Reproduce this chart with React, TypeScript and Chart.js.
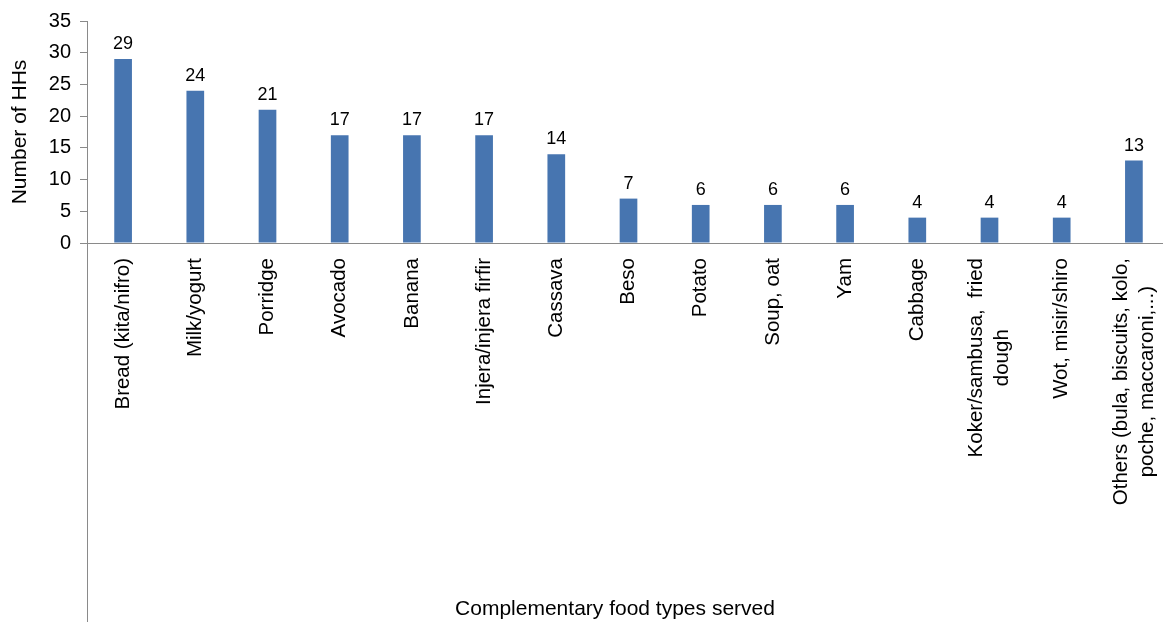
import React, { useEffect, useRef } from "react";
import { Chart, registerables } from "chart.js";

Chart.register(...registerables);

const categories: string[][] = [
  ["Bread (kita/nifro)"],
  ["Milk/yogurt"],
  ["Porridge"],
  ["Avocado"],
  ["Banana"],
  ["Injera/injera firfir"],
  ["Cassava"],
  ["Beso"],
  ["Potato"],
  ["Soup, oat"],
  ["Yam"],
  ["Cabbage"],
  ["Koker/sambusa,  fried", "dough"],
  ["Wot, misir/shiro"],
  ["Others (bula, biscuits, kolo,", "poche, maccaroni,...)"],
];
const householdCounts: number[] = [29, 24, 21, 17, 17, 17, 14, 7, 6, 6, 6, 4, 4, 4, 13];
const yMin = 0;
const yMax = 35;
const yStep = 5;
const yAxisTitle = "Number of HHs";
const xAxisTitle = "Complementary food types served";

const FONT = '"Liberation Sans", Arial, Helvetica, sans-serif';
const AXIS_COLOR = "#8a8a8a";
const BAR_COLOR = "#4775b0";
const TEXT_COLOR = "#000000";

const annotatePlugin = {
  id: "annotate",
  afterDraw(chart: any) {
    const ctx: CanvasRenderingContext2D = chart.ctx;
    const xs = chart.scales.x;
    const ys = chart.scales.y;
    const area = chart.chartArea;
    ctx.save();
    // extend the vertical axis line down through the label area
    const ax = Math.floor(ys.right) + 0.5;
    ctx.strokeStyle = AXIS_COLOR;
    ctx.lineWidth = 1;
    ctx.beginPath();
    ctx.moveTo(ax, area.bottom);
    ctx.lineTo(ax, chart.height);
    ctx.stroke();

    // value labels above bars
    ctx.fillStyle = TEXT_COLOR;
    ctx.font = `18px ${FONT}`;
    ctx.textAlign = "center";
    ctx.textBaseline = "alphabetic";
    const meta = chart.getDatasetMeta(0);
    const values = chart.data.datasets[0].data as number[];
    meta.data.forEach((bar: any, i: number) => {
      ctx.fillText(String(values[i]), bar.x, bar.y - 10);
    });

    // rotated category labels
    ctx.font = `20.5px ${FONT}`;
    const labels = chart.data.labels as string[][];
    const lineH = 26;
    labels.forEach((lines, i) => {
      const x = xs.getPixelForValue(i);
      const w = Math.max(...lines.map((l) => ctx.measureText(l).width));
      ctx.save();
      ctx.translate(x, area.bottom + 15 + w / 2);
      ctx.rotate(-Math.PI / 2);
      ctx.textAlign = "center";
      ctx.textBaseline = "middle";
      lines.forEach((l, j) => {
        ctx.fillText(l, 0, (j - (lines.length - 1) / 2) * lineH);
      });
      ctx.restore();
    });

    // x axis title
    ctx.font = `21px ${FONT}`;
    ctx.textAlign = "center";
    ctx.textBaseline = "middle";
    ctx.fillText(xAxisTitle, 615, 609);
    ctx.restore();
  },
};

export default function App() {
  const canvasRef = useRef<HTMLCanvasElement | null>(null);

  useEffect(() => {
    const canvas = canvasRef.current;
    if (!canvas) return;
    const chart = new Chart(canvas, {
      type: "bar",
      data: {
        labels: categories as any,
        datasets: [
          {
            data: householdCounts,
            backgroundColor: BAR_COLOR,
            borderWidth: 0,
            barPercentage: 0.245,
            categoryPercentage: 1,
          },
        ],
      },
      options: {
        responsive: false,
        animation: false,
        devicePixelRatio: 1,
        layout: { padding: { top: 19, right: 2, bottom: 0, left: 0 } },
        plugins: {
          legend: { display: false },
          tooltip: { enabled: false },
          title: { display: false },
        },
        scales: {
          x: {
            type: "category",
            ticks: { display: false },
            grid: { display: false },
            border: { display: true, color: AXIS_COLOR, width: 1 },
            afterFit: (scale: any) => {
              scale.height = 379;
            },
          },
          y: {
            min: yMin,
            max: yMax,
            ticks: {
              stepSize: yStep,
              color: TEXT_COLOR,
              font: { family: FONT, size: 20 },
              padding: 9,
            },
            grid: {
              drawOnChartArea: false,
              drawTicks: true,
              tickLength: 7,
              color: AXIS_COLOR,
            },
            border: { display: true, color: AXIS_COLOR, width: 1 },
            title: {
              display: true,
              text: yAxisTitle,
              color: TEXT_COLOR,
              font: { family: FONT, size: 21 },
              padding: { top: 8, bottom: 0 },
            },
            afterFit: (scale: any) => {
              scale.width = 87;
            },
          },
        },
      },
      plugins: [annotatePlugin],
    });
    return () => chart.destroy();
  }, []);

  return (
    <div
      style={{
        position: "fixed",
        left: 0,
        top: 0,
        width: 1163,
        height: 622,
        overflow: "hidden",
        background: "#ffffff",
      }}
    >
      <canvas ref={canvasRef} width={1172} height={622} style={{ display: "block" }} />
    </div>
  );
}
